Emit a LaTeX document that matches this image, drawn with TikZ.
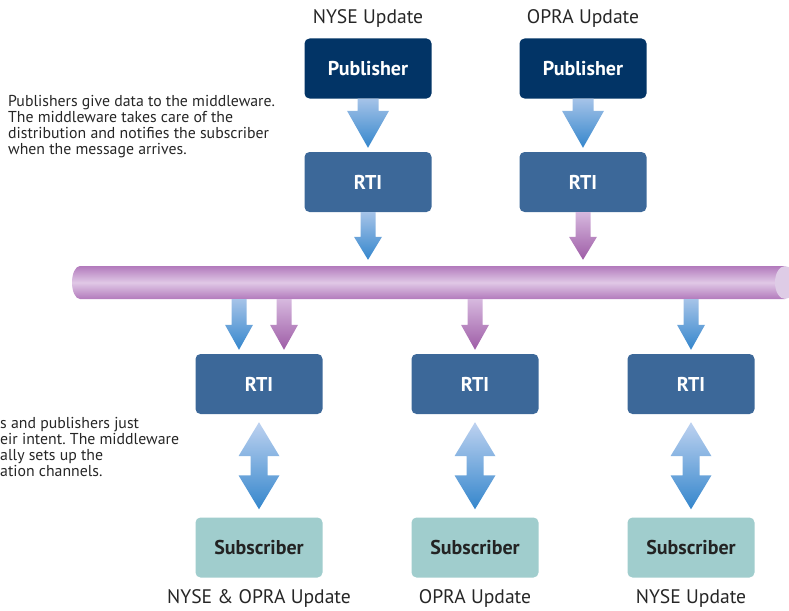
\documentclass[tikz,border=0pt]{standalone}
\usepackage{fontspec}
\setmainfont{PT Sans}
\frenchspacing
\usetikzlibrary{calc}
\definecolor{pubc}{RGB}{2,52,102}
\definecolor{rtic}{RGB}{60,104,153}
\definecolor{subc}{RGB}{160,205,205}
\definecolor{subtext}{RGB}{35,35,35}
\definecolor{blueL}{RGB}{165,195,232}
\definecolor{blueD}{RGB}{52,134,204}
\definecolor{dblL}{RGB}{190,210,240}
\definecolor{purL}{RGB}{214,184,222}
\definecolor{purD}{RGB}{158,92,166}
\definecolor{busE}{RGB}{178,122,188}
\definecolor{busM}{RGB}{224,200,230}
\definecolor{busEnd}{RGB}{222,204,230}
\newcommand{\dnarrow}[6]{%
  \path[#1] let \p1=(#2), \p2=(#3) in
    (\x1-#4,\y1) -- (\x1+#4,\y1) -- (\x1+#4,\y2+#6) -- (\x1+#5,\y2+#6) --
    (\x1,\y2) -- (\x1-#5,\y2+#6) -- (\x1-#4,\y2+#6) -- cycle;}
\newcommand{\dblarrow}[6]{%
  \path[#1] let \p1=(#2), \p2=(#3) in
    (\x1,\y1) -- (\x1+#5,\y1-#6) -- (\x1+#4,\y1-#6) -- (\x1+#4,\y2+#6) --
    (\x1+#5,\y2+#6) -- (\x1,\y2) -- (\x1-#5,\y2+#6) -- (\x1-#4,\y2+#6) --
    (\x1-#4,\y1-#6) -- (\x1-#5,\y1-#6) -- cycle;}
\begin{document}
\begin{tikzpicture}[x=1pt,y=-1pt,
  box/.style={rounded corners=5pt, minimum width=127pt, minimum height=60pt,
    inner sep=0pt, font=\fontsize{20}{22}\selectfont\bfseries},
  pub/.style={box, fill=pubc, text=white},
  rti/.style={box, fill=rtic, text=white},
  sub/.style={box, fill=subc, text=subtext},
  lbl/.style={anchor=base, inner sep=0pt, font=\fontsize{19.6}{22}\selectfont, text=black!85},
  note/.style={anchor=base west, inner sep=0pt, align=left,
    font=\fontsize{15.8}{16}\selectfont, text=black!85},
  bluearr/.style={top color=blueL, middle color=blueD!75!blueL, bottom color=blueD},
  purarr/.style={top color=purL, middle color=purD!75!purL, bottom color=purD},
  dblarr/.style={top color=dblL, bottom color=blueD}]
\useasboundingbox (0,0) rectangle (789,610);

% bus
\node[minimum width=713pt, minimum height=33pt, inner sep=0pt] (bus) at (428.5,282.5) {};
\path[top color=busE, bottom color=busE, middle color=busM]
  (785,266) -- (80,266) arc[start angle=270, end angle=90, x radius=8, y radius=16.5]
  -- (785,299) -- cycle;
\fill[busEnd] (785,282.5) ellipse[x radius=10, y radius=16.5];

% boxes
\node[pub] (pub1) at (368,68.5) {Publisher};
\node[pub] (pub2) at (583,68.5) {Publisher};
\node[rti] (rtiA) at (368,182) {RTI};
\node[rti] (rtiB) at (583,182) {RTI};
\node[rti] (rti1) at (259,384) {RTI};
\node[rti] (rti2) at (475,384) {RTI};
\node[rti] (rti3) at (691,384) {RTI};
\node[sub] (sub1) at (259,547.5) {Subscriber};
\node[sub] (sub2) at (475,547.5) {Subscriber};
\node[sub] (sub3) at (691,547.5) {Subscriber};

% labels
\node[lbl] (l1) at (368,24) {NYSE Update};
\node[lbl] (l2) at (583,24) {OPRA Update};
\node[lbl] (l3) at (259,603) {NYSE \& OPRA Update};
\node[lbl] (l4) at (475,603) {OPRA Update};
\node[lbl] (l5) at (691,603) {NYSE Update};

\node[note] (n1) at (8,154) {Publishers give data to the middleware.\\
The middleware takes care of the\\
distribution and notifies the subscriber\\
when the message arrives.};
\node[note] (n2) at (0,476) {s and publishers just\\
eir intent. The middleware\\
ally sets up the\\
ation channels.};

% publisher -> RTI
\dnarrow{bluearr}{pub1.south}{$(rtiA.north)+(0,-4)$}{10.5pt}{21pt}{37pt}
\dnarrow{bluearr}{pub2.south}{$(rtiB.north)+(0,-4)$}{10.5pt}{21pt}{37pt}
% RTI -> bus
\dnarrow{bluearr}{rtiA.south}{$(rtiA.south |- bus.north)+(0,-6)$}{7.5pt}{14pt}{23pt}
\dnarrow{purarr}{rtiB.south}{$(rtiB.south |- bus.north)+(0,-6)$}{7.5pt}{14pt}{23pt}
% bus -> RTI
\coordinate (c1) at ($(rti1.north)+(-20,-4)$);
\coordinate (c2) at ($(rti1.north)+(25,-4)$);
\coordinate (c3) at ($(rti2.north)+(0,-4)$);
\coordinate (c4) at ($(rti3.north)+(0,-4)$);
\dnarrow{bluearr}{c1 |- bus.south}{c1}{7.5pt}{14pt}{25pt}
\dnarrow{purarr}{c2 |- bus.south}{c2}{7.5pt}{14pt}{25pt}
\dnarrow{purarr}{c3 |- bus.south}{c3}{7.5pt}{14pt}{25pt}
\dnarrow{bluearr}{c4 |- bus.south}{c4}{7.5pt}{14pt}{25pt}
% RTI <-> Subscriber
\dblarrow{dblarr}{$(rti1.south)+(0,8)$}{$(sub1.north)+(0,-8)$}{8.5pt}{20.5pt}{34pt}
\dblarrow{dblarr}{$(rti2.south)+(0,8)$}{$(sub2.north)+(0,-8)$}{8.5pt}{20.5pt}{34pt}
\dblarrow{dblarr}{$(rti3.south)+(0,8)$}{$(sub3.north)+(0,-8)$}{8.5pt}{20.5pt}{34pt}
\end{tikzpicture}
\end{document}
